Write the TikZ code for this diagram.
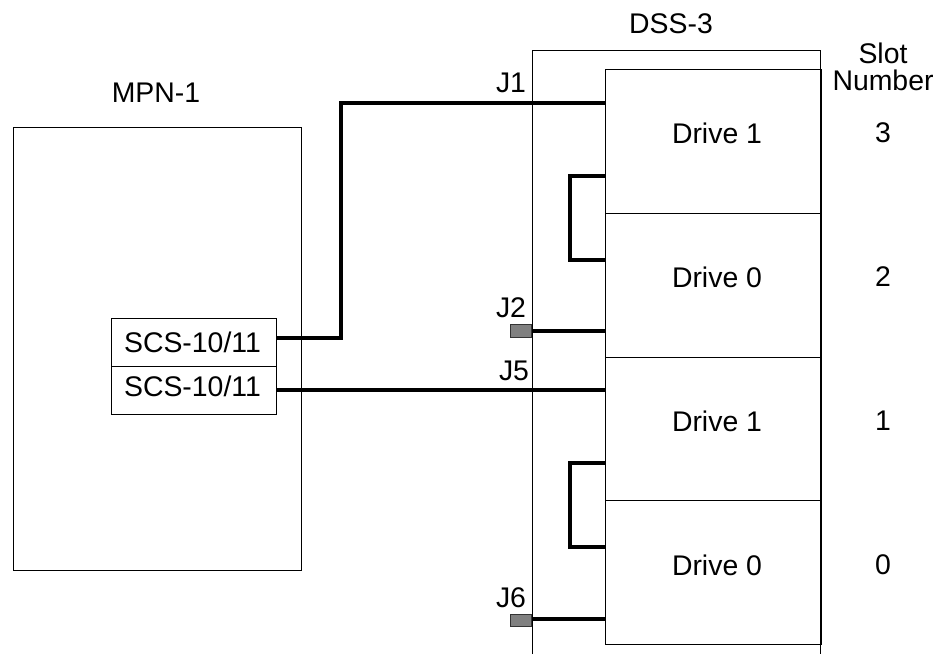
\documentclass[tikz,border=0pt]{standalone}
\usepackage{fontspec}
\setmainfont{Liberation Sans}
\tikzset{
  thinbox/.style={draw, line width=1.1pt, inner sep=0pt, anchor=north west},
  drivebox/.style={thinbox, minimum width=216pt},
  portbox/.style={draw=black!80, fill=black!50, line width=1pt, inner sep=0pt, minimum width=21pt, anchor=east},
  lbl/.style={inner sep=0pt, font=\fontsize{28.4}{27}\selectfont},
  wire/.style={line width=4pt}
}
\begin{document}
\begin{tikzpicture}[x=1pt,y=-1pt]
    \useasboundingbox (0,0) rectangle (941,654);
    % MPN side
    \node[thinbox, minimum width=288pt, minimum height=443pt] (mpn) at (13,127) {};
    \node[lbl] (mpnlabel) at (156,93) {MPN-1};
    \node[thinbox, minimum width=165pt, minimum height=48pt] (scsa) at (111,318) {};
    \node[thinbox, minimum width=165pt, minimum height=48pt] (scsb) at (111,366) {};
    \node[lbl] (scsalabel) at (192.5,342) {SCS-10/11};
    \node[lbl] (scsblabel) at (192.5,386) {SCS-10/11};

    % DSS outline, open at the bottom
    \coordinate (dssbl) at (532.6,654);
    \coordinate (dsstl) at (532.6,50.4);
    \coordinate (dsstr) at (820.6,50.4);
    \coordinate (dssbr) at (820.6,654);
    \draw[line width=1pt] (dssbl) -- (dsstl) -- (dsstr) -- (dssbr);
    \node[lbl] (dsslabel) at (671,24) {DSS-3};

    % Drives
    \node[drivebox, minimum height=144pt] (drivea) at (605,69) {};
    \node[drivebox, minimum height=144pt] (driveb) at (605,213) {};
    \node[drivebox, minimum height=143pt] (drivec) at (605,357) {};
    \node[drivebox, minimum height=144pt] (drived) at (605,500) {};
    \node[lbl] (namea) at (717,133) {Drive 1};
    \node[lbl] (nameb) at (717,277) {Drive 0};
    \node[lbl] (namec) at (717,421) {Drive 1};
    \node[lbl] (named) at (717,565) {Drive 0};

    % Slot numbers
    \node[lbl, align=center] (slothead) at (883,67) {Slot\\Number};
    \node[lbl] (slota) at (883,133) {3};
    \node[lbl] (slotb) at (883,277) {2};
    \node[lbl] (slotc) at (883,421) {1};
    \node[lbl] (slotd) at (883,565) {0};

    % Connectors
    \node[portbox, minimum height=13pt] (porta) at (532,331) {};
    \node[portbox, minimum height=12pt] (portb) at (532,620) {};
    \node[lbl] (jone) at (511,83) {J1};
    \node[lbl] (jtwo) at (511,308) {J2};
    \node[lbl] (jfive) at (514,371) {J5};
    \node[lbl] (jsix) at (511,598) {J6};

    % Ends of the wires on the drives
    \coordinate (aw) at (605,103);
    \coordinate (at) at (605,176);
    \coordinate (bt) at (605,260);
    \coordinate (bw) at (605,331);
    \coordinate (cw) at (605,390);
    \coordinate (ct) at (605,463);
    \coordinate (dt) at (605,547);
    \coordinate (dw) at (605,619);
    \coordinate (sa) at (276,338);
    \coordinate (sb) at (276,390);
    \coordinate (bend) at (341,338);

    % Wires
    \draw[wire] (sa) -- (bend) |- (aw);
    \draw[wire] (sb) -- (cw);
    \draw[wire] (at) -| (570,218) |- (bt);
    \draw[wire] (ct) -| (570,505) |- (dt);
    \draw[wire] (porta.east) -- (bw);
    \draw[wire] (portb.east |- dw) -- (dw);
\end{tikzpicture}
\end{document}
